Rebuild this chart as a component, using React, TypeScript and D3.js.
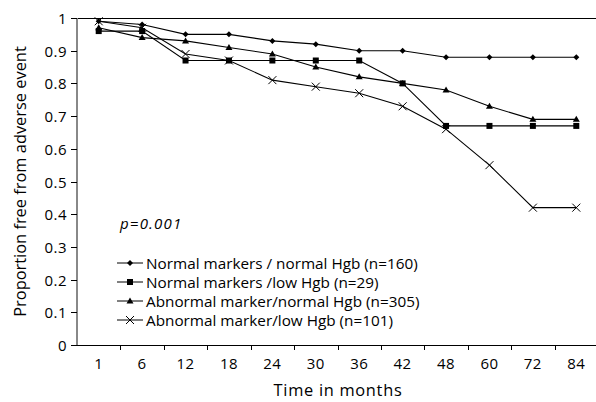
import React, { useEffect, useRef } from "react";
import * as d3 from "d3";

const months = ["1", "6", "12", "18", "24", "30", "36", "42", "48", "60", "72", "84"];
const normalNormal = [0.99, 0.98, 0.95, 0.95, 0.93, 0.92, 0.9, 0.9, 0.88, 0.88, 0.88, 0.88];
const normalLow = [0.96, 0.96, 0.87, 0.87, 0.87, 0.87, 0.87, 0.8, 0.67, 0.67, 0.67, 0.67];
const abnormalNormal = [0.97, 0.94, 0.93, 0.91, 0.89, 0.85, 0.82, 0.8, 0.78, 0.73, 0.69, 0.69];
const abnormalLow = [0.99, 0.97, 0.89, 0.87, 0.81, 0.79, 0.77, 0.73, 0.66, 0.55, 0.42, 0.42];
const yTicks = [0, 0.1, 0.2, 0.3, 0.4, 0.5, 0.6, 0.7, 0.8, 0.9, 1];

const series = [
  { name: "Normal markers / normal Hgb (n=160)", values: normalNormal, marker: "diamond" },
  { name: "Normal markers /low Hgb (n=29)", values: normalLow, marker: "square" },
  { name: "Abnormal marker/normal Hgb (n=305)", values: abnormalNormal, marker: "triangle" },
  { name: "Abnormal marker/low Hgb (n=101)", values: abnormalLow, marker: "cross" },
];

const font = "'Open Sans', 'Noto Sans', sans-serif";

function drawMarker(g: any, type: string, x: number, y: number) {
  if (type === "diamond") {
    g.append("path")
      .attr("d", `M${x},${y - 3}L${x + 3},${y}L${x},${y + 3}L${x - 3},${y}Z`)
      .attr("fill", "#000");
  } else if (type === "square") {
    g.append("rect")
      .attr("x", x - 3)
      .attr("y", y - 3)
      .attr("width", 6)
      .attr("height", 6)
      .attr("fill", "#000");
  } else if (type === "triangle") {
    g.append("path")
      .attr("d", `M${x},${y - 3.5}L${x + 3.5},${y + 2.5}L${x - 3.5},${y + 2.5}Z`)
      .attr("fill", "#000");
  } else {
    g.append("path")
      .attr("d", `M${x - 4},${y - 4}L${x + 4},${y + 4}M${x + 4},${y - 4}L${x - 4},${y + 4}`)
      .attr("stroke", "#000")
      .attr("stroke-width", 1);
  }
}

const App = () => {
  const svgRef = useRef<SVGSVGElement>(null);

  useEffect(() => {
    const svg = d3.select(svgRef.current);
    svg.selectAll("*").remove();
    const margin = { top: 18, right: 0, bottom: 57, left: 77 };
    const width = 598 - margin.left;
    const height = 402 - margin.top - margin.bottom;

    const g = svg.append("g").attr("transform", `translate(${margin.left},${margin.top})`);

    const x = d3.scaleBand().domain(months).range([0, width]);
    const y = d3.scaleLinear().domain([0, 1]).range([height, 0]);

    // top border
    g.append("line")
      .attr("x1", 0)
      .attr("x2", width)
      .attr("y1", 0.5)
      .attr("y2", 0.5)
      .attr("stroke", "#000");

    // x axis
    const xAxis = g.append("g").attr("transform", `translate(0,${height})`);
    xAxis
      .append("line")
      .attr("x1", 0)
      .attr("x2", width)
      .attr("y1", 0.5)
      .attr("y2", 0.5)
      .attr("stroke", "#000");
    months.forEach((m, i) => {
      const bx = Math.round(x(m)!) + 0.5;
      if (i > 0) {
        xAxis.append("line").attr("x1", bx).attr("x2", bx).attr("y1", 0).attr("y2", 5).attr("stroke", "#000");
      }
      xAxis
        .append("text")
        .attr("x", x(m)! + x.bandwidth() / 2)
        .attr("y", 24)
        .attr("text-anchor", "middle")
        .attr("font-family", font)
        .attr("font-size", 15)
        .attr("letter-spacing", 0.5)
        .text(m);
    });

    // y axis
    const yAxis = g.append("g");
    yAxis
      .append("line")
      .attr("x1", 0)
      .attr("x2", 0)
      .attr("y1", 0)
      .attr("y2", height)
      .attr("stroke", "#888")
      .attr("stroke-width", 2);
    yTicks.forEach((t) => {
      const ty = Math.round(y(t)) + 0.5;
      yAxis.append("line").attr("x1", -6).attr("x2", 0).attr("y1", ty).attr("y2", ty).attr("stroke", "#000");
      yAxis
        .append("text")
        .attr("x", -10)
        .attr("y", ty + 5)
        .attr("text-anchor", "end")
        .attr("font-family", font)
        .attr("font-size", 15)
        .attr("letter-spacing", 0.5)
        .text(t === 0 ? "0" : t === 1 ? "1" : d3.format(".1f")(t));
    });

    const line = d3
      .line<number>()
      .x((d, i) => x(months[i])! + x.bandwidth() / 2)
      .y((d) => y(d));

    series.forEach((s) => {
      g.append("path")
        .datum(s.values)
        .attr("fill", "none")
        .attr("stroke", "#000")
        .attr("stroke-width", 1.1)
        .attr("d", line);
      s.values.forEach((v, i) => {
        drawMarker(g, s.marker, x(months[i])! + x.bandwidth() / 2, y(v));
      });
    });

    // p value
    svg
      .append("text")
      .attr("x", 120)
      .attr("y", 229)
      .attr("font-family", font)
      .attr("font-size", 15)
      .attr("font-style", "italic")
      .attr("letter-spacing", 1.2)
      .text("p=0.001");

    // legend
    const legend = svg.append("g");
    series.forEach((s, i) => {
      const ly = 263 + i * 19;
      legend.append("line").attr("x1", 117).attr("x2", 143).attr("y1", ly).attr("y2", ly).attr("stroke", "#000");
      drawMarker(legend, s.marker, 130, ly);
      legend
        .append("text")
        .attr("x", 146)
        .attr("y", ly + 5.5)
        .attr("font-family", font)
        .attr("font-size", 15.3)
        .text(s.name);
    });

    // axis titles
    svg
      .append("text")
      .attr("transform", `translate(26,${margin.top + height / 2}) rotate(-90)`)
      .attr("text-anchor", "middle")
      .attr("font-family", font)
      .attr("font-size", 16.4)
      .text("Proportion free from adverse event");

    svg
      .append("text")
      .attr("x", 338)
      .attr("y", 396)
      .attr("text-anchor", "middle")
      .attr("font-family", font)
      .attr("font-size", 16.4)
      .attr("letter-spacing", 0.7)
      .text("Time in months");
  }, []);

  return (
    <svg
      ref={svgRef}
      width={596}
      height={402}
      style={{ position: "absolute", left: 0, top: 0, background: "#fff" }}
    />
  );
};

export default App;
